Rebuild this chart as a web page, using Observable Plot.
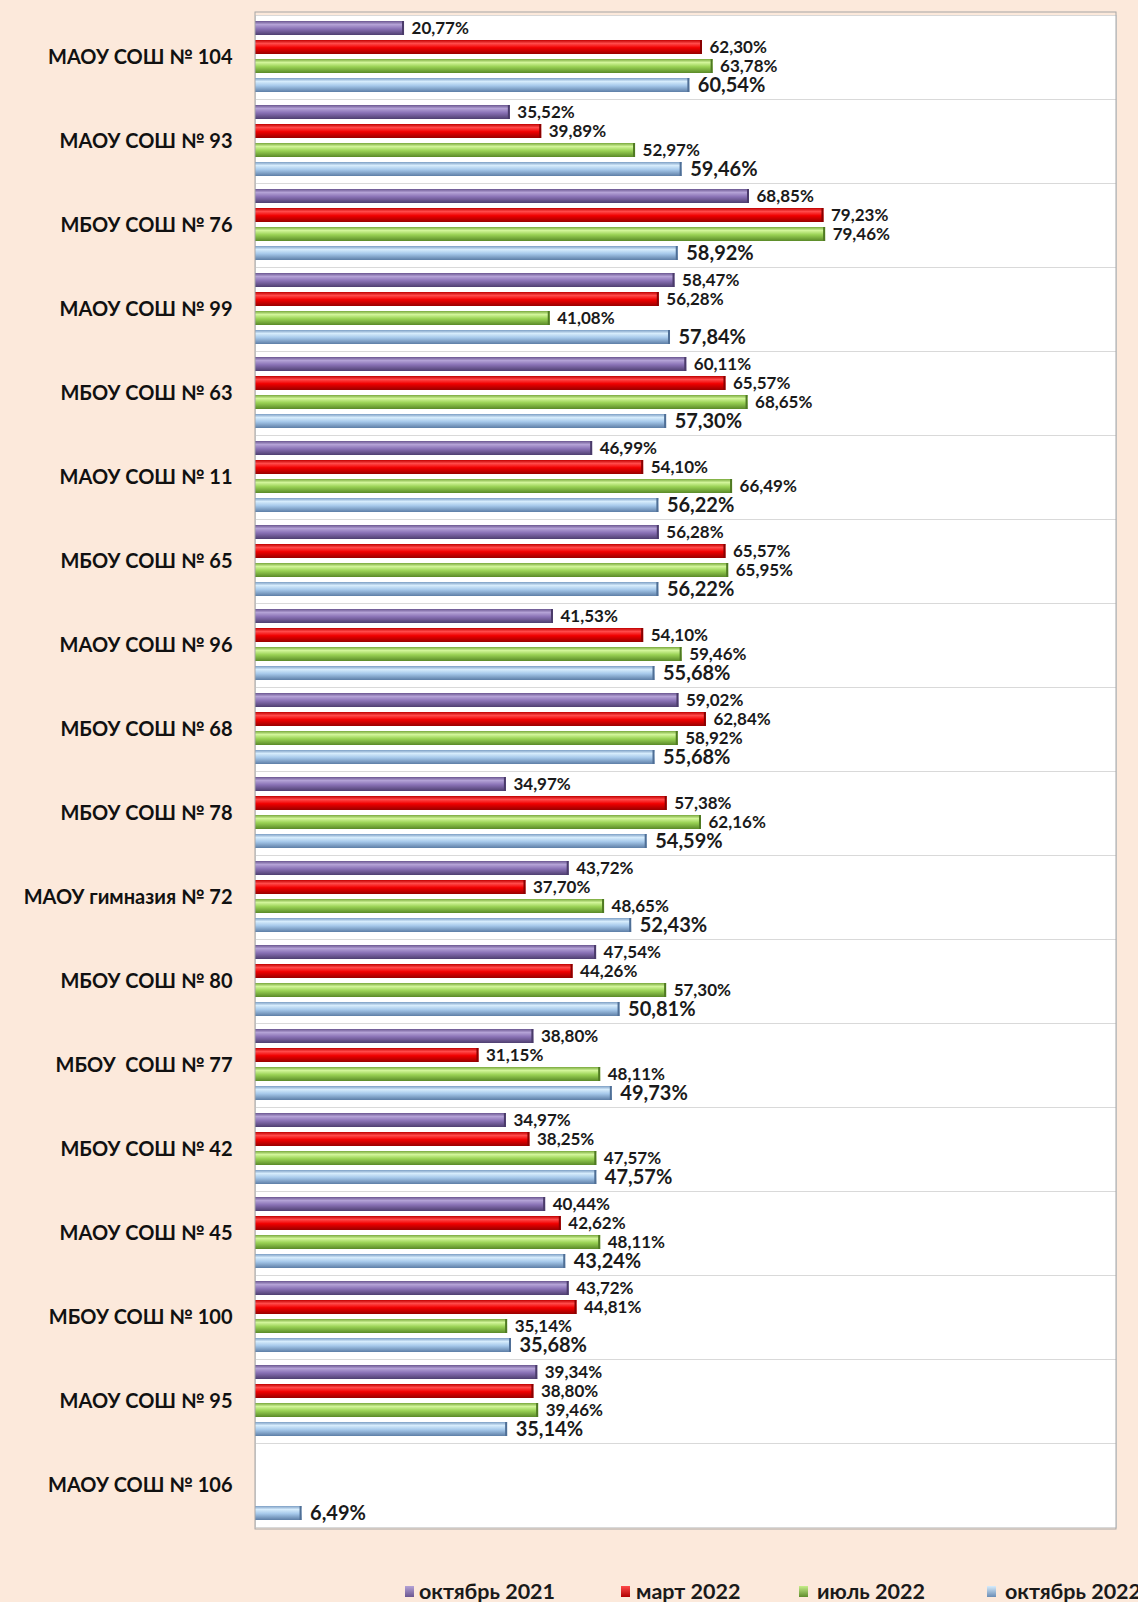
<!DOCTYPE html>
<html>
<head>
<meta charset="utf-8">
<script src="https://cdn.jsdelivr.net/npm/d3@7"></script>
<script src="https://cdn.jsdelivr.net/npm/@observablehq/plot@0.6"></script>
<style>
  html, body { margin: 0; padding: 0; background: #FCE9DB; }
  body { width: 1138px; height: 1602px; overflow: hidden; font-family: Lato, "Noto Sans", sans-serif; }
  #chart svg { display: block; }
  #legend { position: relative; height: 54px; }
  .sw { position: absolute; top: 38px; width: 9px; height: 11px; }
  .lt { position: absolute; top: 32px; font-weight: bold; font-size: 21.5px; line-height: 22px; color: #1a1a1a; white-space: nowrap; }
</style>
</head>
<body>
<svg width="0" height="0" style="position:absolute">
  <defs>
    <linearGradient id="g0" x1="0" y1="0" x2="0" y2="1">
      <stop offset="0" stop-color="#6a5690"/><stop offset="0.25" stop-color="#b4a2d6"/><stop offset="0.55" stop-color="#8a72b6"/><stop offset="1" stop-color="#4f3f70"/>
    </linearGradient>
    <linearGradient id="g1" x1="0" y1="0" x2="0" y2="1">
      <stop offset="0" stop-color="#c00000"/><stop offset="0.25" stop-color="#ff4a4a"/><stop offset="0.55" stop-color="#f00000"/><stop offset="1" stop-color="#990000"/>
    </linearGradient>
    <linearGradient id="g2" x1="0" y1="0" x2="0" y2="1">
      <stop offset="0" stop-color="#78a83c"/><stop offset="0.25" stop-color="#d2f59a"/><stop offset="0.55" stop-color="#9ad255"/><stop offset="1" stop-color="#5a8a28"/>
    </linearGradient>
    <linearGradient id="g3" x1="0" y1="0" x2="0" y2="1">
      <stop offset="0" stop-color="#7c9ec4"/><stop offset="0.25" stop-color="#d6ecfc"/><stop offset="0.55" stop-color="#a6c8ea"/><stop offset="1" stop-color="#5d7ea6"/>
    </linearGradient>
  </defs>
</svg>
<div id="chart"></div>
<div id="legend"></div>
<script>
const schools = [
  "МАОУ СОШ № 104", "МАОУ СОШ № 93", "МБОУ СОШ № 76", "МАОУ СОШ № 99",
  "МБОУ СОШ № 63", "МАОУ СОШ № 11", "МБОУ СОШ № 65", "МАОУ СОШ № 96",
  "МБОУ СОШ № 68", "МБОУ СОШ № 78", "МАОУ гимназия № 72", "МБОУ СОШ № 80",
  "МБОУ\u00a0 СОШ № 77", "МБОУ СОШ № 42", "МАОУ СОШ № 45", "МБОУ СОШ № 100",
  "МАОУ СОШ № 95", "МАОУ СОШ № 106"
];
const seriesNames = ["октябрь 2021", "март 2022", "июль 2022", "октябрь 2022"];
const oct2021 = [20.77, 35.52, 68.85, 58.47, 60.11, 46.99, 56.28, 41.53, 59.02, 34.97, 43.72, 47.54, 38.80, 34.97, 40.44, 43.72, 39.34, null];
const mar2022 = [62.30, 39.89, 79.23, 56.28, 65.57, 54.10, 65.57, 54.10, 62.84, 57.38, 37.70, 44.26, 31.15, 38.25, 42.62, 44.81, 38.80, null];
const jul2022 = [63.78, 52.97, 79.46, 41.08, 68.65, 66.49, 65.95, 59.46, 58.92, 62.16, 48.65, 57.30, 48.11, 47.57, 48.11, 35.14, 39.46, null];
const oct2022 = [60.54, 59.46, 58.92, 57.84, 57.30, 56.22, 56.22, 55.68, 55.68, 54.59, 52.43, 50.81, 49.73, 47.57, 43.24, 35.68, 35.14, 6.49];

const seriesValues = [oct2021, mar2022, jul2022, oct2022];
const fills = ["url(#g0)", "url(#g1)", "url(#g2)", "url(#g3)"];
const caps = ["#4a3b6a", "#8a0000", "#4f7a22", "#4f6f96"];
const swatch = ["linear-gradient(#b4a2d6,#6a5690)", "linear-gradient(#ff4a4a,#b00000)", "linear-gradient(#c6ee8a,#5f8b2c)", "linear-gradient(#d6ecfc,#6a8cb4)"];

const rows = [];
seriesValues.forEach((arr, si) => arr.forEach((v, i) => {
  if (v != null) rows.push({school: schools[i], series: seriesNames[si], si, v});
}));
const fmt = v => v.toFixed(2).replace(".", ",") + "%";

const W = 1138, H = 1548, mL = 255, mR = 22, mT = 12, mB = 19;

const marks = [Plot.frame({fill: "white", stroke: "#d9d9d9"})];
seriesNames.forEach((s, si) => {
  const d = rows.filter(r => r.si === si);
  marks.push(Plot.barX(d, {x: "v", y: "series", fy: "school", fill: fills[si]}));
  marks.push(Plot.barX(d, {x1: r => r.v - 0.28, x2: "v", y: "series", fy: "school", fill: caps[si]}));
  marks.push(Plot.text(d, {x: "v", y: "series", fy: "school", text: r => fmt(r.v), dx: si === 3 ? 8 : 7,
    textAnchor: "start", fontWeight: "bold", fontSize: si === 3 ? 20 : 17, fill: "#1a1a1a"}));
});
marks.push(Plot.text(schools, {fy: d => d, text: d => d, frameAnchor: "left", dx: -23, textAnchor: "end",
  fontSize: 20, fontWeight: "bold", fill: "#111"}));

const chart = Plot.plot({
  width: W, height: H,
  marginLeft: mL, marginRight: mR, marginTop: mT, marginBottom: mB,
  style: {fontFamily: "Lato, 'Noto Sans', sans-serif", background: "transparent", overflow: "visible"},
  x: {domain: [0, 120], axis: null},
  y: {domain: seriesNames, paddingInner: 0.26, paddingOuter: 0.34, axis: null},
  fy: {domain: schools, padding: 0, axis: null},
  marks
});
document.getElementById("chart").appendChild(chart);
d3.select(chart).append("rect")
  .attr("x", mL).attr("y", mT).attr("width", W - mL - mR).attr("height", H - mT - mB)
  .attr("fill", "none").attr("stroke", "#a6a6a6").attr("stroke-width", 1);

const swX = [405, 621, 799, 987];
const txX = [419, 636, 817, 1005];
const lg = d3.select("#legend");
seriesNames.forEach((s, i) => {
  lg.append("div").attr("class", "sw").style("left", swX[i] + "px").style("background", swatch[i]);
  lg.append("div").attr("class", "lt").style("left", txX[i] + "px").text(s);
});
</script>
</body>
</html>
